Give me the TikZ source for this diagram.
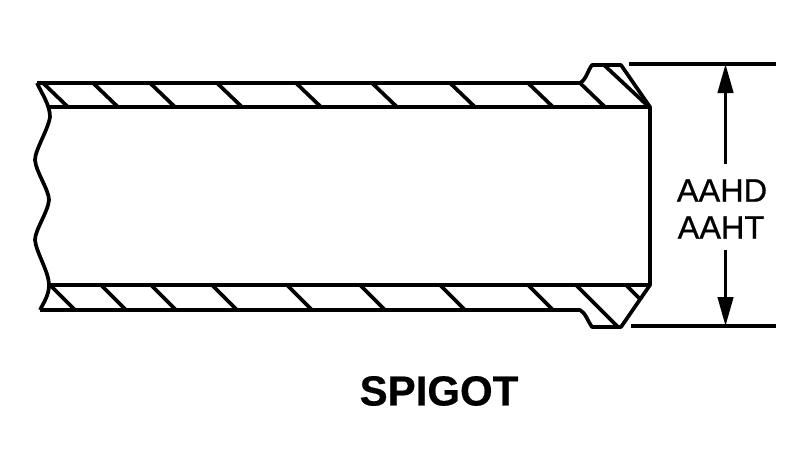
\documentclass[tikz,border=0pt]{standalone}
\usepackage{fontspec}
\setmainfont{Liberation Sans}
\newfontfamily\dimfont{Liberation Sans}[RawFeature={embolden=0.7}]
\newfontfamily\titlefont{Liberation Sans Bold}[RawFeature={embolden=0.5}]
\usetikzlibrary{arrows.meta}
\tikzset{every path/.style={line cap=butt, line join=round},
  wall/.style={line width=3.7pt},
  dimline/.style={line width=3.3pt},
  dimarrow/.style={line width=3pt,-{Triangle[length=29pt,width=15.5pt]}},
  dimtext/.style={font=\fontsize{32.5}{36}\selectfont\dimfont,inner sep=0pt},
  title/.style={font=\fontsize{42}{44}\selectfont\titlefont,inner sep=0pt}}

\begin{document}
\begin{tikzpicture}[x=1pt,y=-1pt]
          \useasboundingbox (0,0) rectangle (810,450);
          %tubo
          \draw[wall] (37,83) -- (580,83) .. controls (586,80) and (588,70) .. (592,65) -- (621,65) -- (650,107) -- (650,285) -- (621,327) -- (592,327) .. controls (588,322) and (586,313) .. (580,310) -- (40,310);
          \draw[wall] (48,107) -- (650,107);
          \draw[wall] (49,285) -- (650,285);
          %corte
          \draw[wall] (37,83) .. controls (42,94) and (50,105) .. (50,117) .. controls (48,130) and (35,150) .. (35,160) .. controls (36,172) and (49,190) .. (49,200) .. controls (48,212) and (35,230) .. (35,240) .. controls (36,252) and (49,272) .. (49,285) .. controls (49,295) and (44,302) .. (40,310);
          %rayado arriba
          \foreach \x in {43,93,150,217,296,372,450,528,580}
            \draw[wall] (\x,83) -- (\x+25,107);
          \draw[wall] (604,65) -- (649,107);
          %rayado abajo
          \foreach \x in {50,101,151,212,287,360,440,528}
            \draw[wall] (\x,285) -- (\x+25,310);
          \draw[wall] (576,285) -- (618,327);
          \draw[wall] (626,285) -- (641,300);
          %cotas
          \coordinate (topleft) at (629,64);
          \coordinate (topright) at (776,64);
          \coordinate (botleft) at (631,326);
          \coordinate (botright) at (776,326);
          \coordinate (toptip) at (725.5,64);
          \coordinate (bottip) at (725.5,326);
          \draw[dimline] (topleft) -- (topright);
          \draw[dimline] (botleft) -- (botright);
          \node[dimtext] (aahd) at (722,190.5) {AAHD};
          \node[dimtext] (aaht) at (721,227.5) {AAHT};
          \draw[dimarrow] ([yshift=15pt]aahd.north -| toptip) -- (toptip);
          \draw[dimarrow] ([yshift=-11pt]aaht.south -| bottip) -- (bottip);
          %titulo
          \node[title] (spigot) at (439,391) {SPIGOT};
        \end{tikzpicture}
\end{document}
